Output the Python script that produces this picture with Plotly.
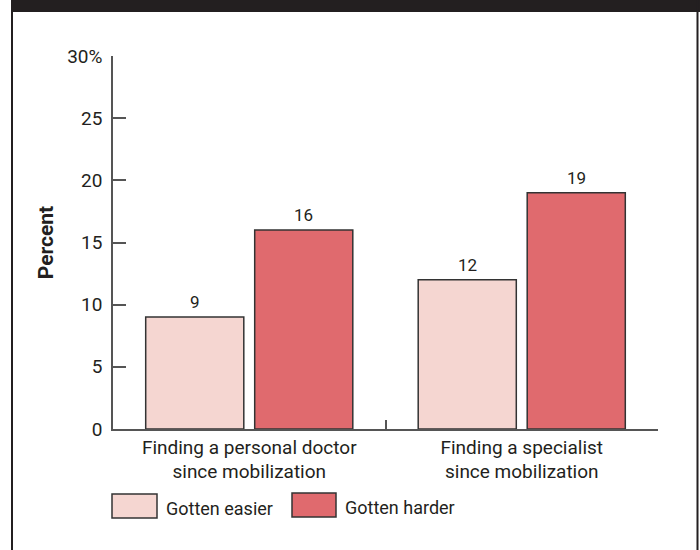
import plotly.graph_objects as go

# Survey results: share of respondents reporting a change in access to care
categories = ["Finding a personal doctor<br>since mobilization",
              "Finding a specialist<br>since mobilization"]
series_names = ["Gotten easier", "Gotten harder"]
easier = [9, 12]
harder = [16, 19]
colors = ["#F5D6D1", "#E06A6E"]

y_tickvals = [0, 5, 10, 15, 20, 25, 30]
y_ticktext = ["0", "5", "10", "15", "20", "25", "30%"]

W, H = 700, 550
ML, MR, MT, MB = 113, 42, 56, 121
FONT = "Roboto, Liberation Sans Narrow, sans-serif"
TEXT = "#231F20"
AXIS = "#555555"


def px(x):
    return (x - ML) / (W - ML - MR)


def py(y):
    return (H - MB - y) / (H - MT - MB)


fig = go.Figure()
for name, vals, col in zip(series_names, [easier, harder], colors):
    fig.add_trace(go.Bar(
        x=categories, y=vals, name=name,
        marker=dict(color=col, line=dict(color="#333333", width=1.5)),
        showlegend=False, hoverinfo="skip",
    ))

# value labels above each bar
offsets = [-0.5 * 0.8 / 2, 0.5 * 0.8 / 2]
for vals, off in zip([easier, harder], offsets):
    for i, v in enumerate(vals):
        fig.add_annotation(x=i + off, y=v, xref="x", yref="y", text=str(v),
                           showarrow=False, yanchor="bottom", yshift=3,
                           font=dict(family=FONT, size=17, color=TEXT))

shapes = [
    # dark header band and frame
    dict(type="rect", xref="paper", yref="paper", x0=px(11), x1=px(701),
         y0=py(12), y1=py(-1), fillcolor="#231F20", line=dict(width=0), layer="above"),
    dict(type="line", xref="paper", yref="paper", x0=px(12), x1=px(12),
         y0=py(0), y1=py(551), line=dict(color="#231F20", width=2)),
    dict(type="line", xref="paper", yref="paper", x0=px(697.5), x1=px(697.5),
         y0=py(0), y1=py(551), line=dict(color="#231F20", width=2)),
]

# legend swatches
legend_items = [(112, 157, 494, 518, 164), (292, 336, 493, 517, 343)]
for (x0, x1, y0, y1, tx), name, col in zip(legend_items, series_names, colors):
    shapes.append(dict(type="rect", xref="paper", yref="paper",
                       x0=px(x0), x1=px(x1), y0=py(y1), y1=py(y0),
                       fillcolor=col, line=dict(color="#333333", width=1.5)))
    fig.add_annotation(x=px(tx), y=py((y0 + y1) / 2 + 3), xref="paper", yref="paper",
                       text=name, showarrow=False, xanchor="left", yanchor="middle",
                       font=dict(family=FONT, size=18, color=TEXT))

fig.update_layout(
    width=W, height=H,
    margin=dict(l=ML, r=MR, t=MT, b=MB, pad=0),
    paper_bgcolor="white", plot_bgcolor="white",
    barmode="group", bargap=0.2, bargroupgap=0.1,
    shapes=shapes,
    font=dict(family=FONT, size=18, color=TEXT),
    xaxis=dict(
        range=[-0.5, 1.5], showline=True, linecolor=AXIS, linewidth=1.5,
        ticks="inside", tickson="boundaries", ticklen=9, tickcolor=AXIS, tickwidth=1.5,
        showgrid=False, zeroline=False, fixedrange=True,
        tickfont=dict(family=FONT, size=19, color=TEXT),
    ),
    yaxis=dict(
        range=[0, 30], tickvals=y_tickvals, ticktext=y_ticktext,
        showline=True, linecolor=AXIS, linewidth=1.5,
        ticks="inside", ticklen=13, tickcolor=AXIS, tickwidth=1.5,
        showgrid=False, zeroline=False, fixedrange=True,
        ticklabelstandoff=5,
        tickfont=dict(family=FONT, size=19, color=TEXT),
        title=dict(text="<b>Percent</b>", standoff=8,
                   font=dict(family=FONT, size=21, color=TEXT)),
    ),
)

fig.write_html("out.html")
